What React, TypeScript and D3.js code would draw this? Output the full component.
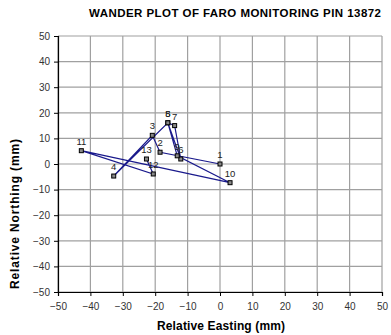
import React, { useRef, useEffect } from "react";
import * as d3 from "d3";

// survey readings, in order of visit
const pointLabels = ["1", "2", "3", "4", "5", "6", "7", "8", "9", "10", "11", "12", "13"];
const easting = [0, -18.5, -20.9, -32.8, -16.1, -12.1, -14.0, -16.1, -13.2, 3.1, -42.8, -20.6, -22.7];
const northing = [0, 4.6, 11.2, -4.7, 16.1, 1.95, 15.0, 16.1, 3.2, -7.3, 5.2, -3.9, 1.95];

const xTicks = [-50, -40, -30, -20, -10, 0, 10, 20, 30, 40, 50];
const yTicks = [-50, -40, -30, -20, -10, 0, 10, 20, 30, 40, 50];

const title = "WANDER PLOT OF FARO MONITORING PIN 13872";
const xTitle = "Relative Easting (mm)";
const yTitle = "Relative Northing (mm)";

const W = 391;
const H = 335;
const FONT = "'Liberation Sans', Arial, sans-serif";

export default function App() {
  const svgRef = useRef<SVGSVGElement>(null);

  useEffect(() => {
    if (!svgRef.current) return;
    const root = d3.select(svgRef.current);
    root.selectAll("*").remove();

    const margin = { top: 36, right: 9, bottom: 43, left: 58 };
    const chartW = W - margin.left - margin.right;
    const chartH = H - margin.top - margin.bottom;

    const svg = root.append("g").attr("transform", `translate(${margin.left},${margin.top})`);

    const x = d3.scaleLinear().domain([-50, 50]).range([0, chartW]);
    const y = d3.scaleLinear().domain([-50, 50]).range([chartH, 0]);

    // grid
    svg.append("g")
      .selectAll("line")
      .data(xTicks)
      .join("line")
      .attr("x1", (d) => x(d)).attr("x2", (d) => x(d))
      .attr("y1", 0).attr("y2", chartH)
      .attr("stroke", "#a0a0a0").attr("stroke-width", 1.2);
    svg.append("g")
      .selectAll("line")
      .data(yTicks)
      .join("line")
      .attr("x1", 0).attr("x2", chartW)
      .attr("y1", (d) => y(d)).attr("y2", (d) => y(d))
      .attr("stroke", "#a0a0a0").attr("stroke-width", 1.2);

    // axes
    svg.append("g")
      .attr("transform", `translate(0,${chartH})`)
      .call(d3.axisBottom(x).tickValues(xTicks).tickSize(4).tickFormat(d3.format("d")))
      .call((g) => g.select(".domain").attr("stroke", "#000").attr("stroke-width", 1.2))
      .call((g) => g.selectAll(".tick line").attr("stroke", "#000"))
      .call((g) => g.selectAll(".tick text").attr("fill", "#333").attr("font-size", "10px").attr("font-family", FONT).attr("dy", "1.05em"));

    svg.append("g")
      .call(d3.axisLeft(y).tickValues(yTicks).tickSize(4).tickFormat(d3.format("d")))
      .call((g) => g.select(".domain").attr("stroke", "#000").attr("stroke-width", 1.2))
      .call((g) => g.selectAll(".tick line").attr("stroke", "#000"))
      .call((g) => g.selectAll(".tick text").attr("fill", "#333").attr("font-size", "10px").attr("font-family", FONT).attr("x", -8));

    // wander path
    const rows = easting.map((e, i) => ({ e, n: northing[i], label: pointLabels[i] }));
    const line = d3.line<{ e: number; n: number }>().x((d) => x(d.e)).y((d) => y(d.n));
    svg.append("path").datum(rows).attr("d", line).attr("fill", "none").attr("stroke", "#1a1a8c").attr("stroke-width", 1.2);

    svg.append("g")
      .selectAll("rect")
      .data(rows)
      .join("rect")
      .attr("x", (d) => x(d.e) - 2).attr("y", (d) => y(d.n) - 2)
      .attr("width", 4).attr("height", 4)
      .attr("fill", "#888").attr("stroke", "#000").attr("stroke-width", 1);

    svg.append("g")
      .selectAll("text")
      .data(rows)
      .join("text")
      .attr("x", (d) => x(d.e)).attr("y", (d) => y(d.n) - 6)
      .attr("text-anchor", "middle")
      .attr("font-family", FONT).attr("font-size", "9.5px").attr("fill", "#222")
      .text((d) => d.label);

    // titles
    root.append("text").attr("x", 235).attr("y", 17).attr("text-anchor", "middle")
      .attr("font-family", FONT).attr("font-size", "11.5px").attr("font-weight", "bold").attr("fill", "#000")
      .attr("textLength", 292).attr("lengthAdjust", "spacing").text(title);
    root.append("text").attr("x", 221).attr("y", 330).attr("text-anchor", "middle")
      .attr("font-family", FONT).attr("font-size", "12px").attr("font-weight", "bold").attr("fill", "#000")
      .attr("textLength", 128).attr("lengthAdjust", "spacing").text(xTitle);
    root.append("text").attr("transform", `translate(19,${214}) rotate(-90)`).attr("text-anchor", "middle")
      .attr("font-family", FONT).attr("font-size", "12px").attr("font-weight", "bold").attr("fill", "#000")
      .attr("textLength", 150).attr("lengthAdjust", "spacing").text(yTitle);
  }, []);

  return (
    <svg ref={svgRef} width={W} height={H} style={{ position: "absolute", left: 0, top: 0, background: "#fff" }} />
  );
}
